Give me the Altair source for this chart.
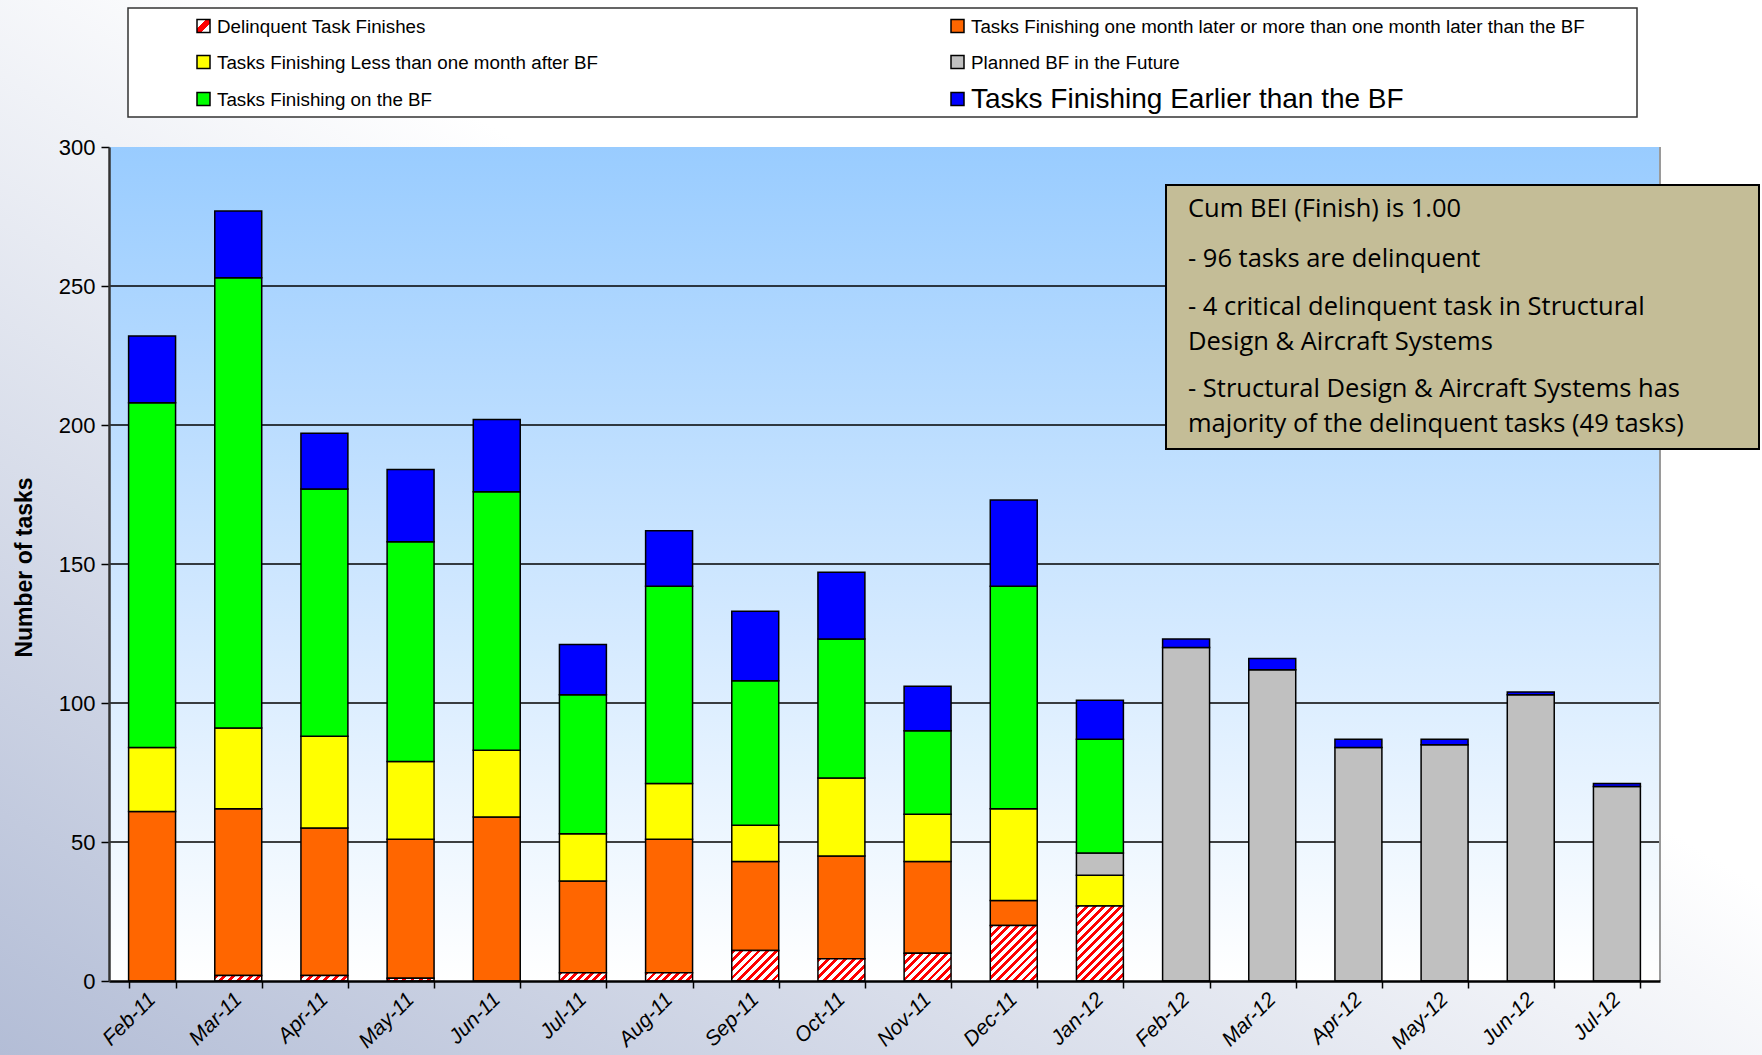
import math
import altair as alt
import pandas as pd

# ---------------- data ----------------
months = ["Feb-11", "Mar-11", "Apr-11", "May-11", "Jun-11", "Jul-11", "Aug-11",
          "Sep-11", "Oct-11", "Nov-11", "Dec-11", "Jan-12", "Feb-12", "Mar-12",
          "Apr-12", "May-12", "Jun-12", "Jul-12"]
delinquent = [0, 2, 2, 1, 0, 3, 3, 11, 8, 10, 20, 27, 0, 0, 0, 0, 0, 0]
late_month = [61, 60, 53, 50, 59, 33, 48, 32, 37, 33, 9, 0, 0, 0, 0, 0, 0, 0]
less_month = [23, 29, 33, 28, 24, 17, 20, 13, 28, 17, 33, 11, 0, 0, 0, 0, 0, 0]
planned_future = [0, 0, 0, 0, 0, 0, 0, 0, 0, 0, 0, 8, 120, 112, 84, 85, 103, 70]
on_bf = [124, 162, 89, 79, 93, 50, 71, 52, 50, 30, 80, 41, 0, 0, 0, 0, 0, 0]
earlier = [24, 24, 20, 26, 26, 18, 20, 25, 24, 16, 31, 14, 3, 4, 3, 2, 1, 1]

categories = ["Delinquent Task Finishes",
              "Tasks Finishing one month later or more than one month later than the BF",
              "Tasks Finishing Less than one month after BF",
              "Planned BF in the Future",
              "Tasks Finishing on the BF",
              "Tasks Finishing Earlier than the BF"]
cat_colors = ["#ff0000", "#ff6600", "#ffff00", "#c0c0c0", "#00ff00", "#0000ff"]

y_ticks = [0, 50, 100, 150, 200, 250, 300]
grid_values = [50, 100, 150, 200, 250]

note_lines = ["Cum BEI (Finish) is 1.00",
              "- 96 tasks are delinquent",
              "- 4 critical delinquent task in Structural",
              "Design & Aircraft Systems",
              "- Structural Design & Aircraft Systems has",
              "majority of the delinquent tasks (49 tasks)"]

# legend layout: left column then right column
legend_order = [0, 2, 4, 1, 3, 5]

# ---------------- layout ----------------
W, H = 1551, 834
PAD = {"left": 109, "top": 147, "right": 102, "bottom": 74}
PI = 0.455
BAR_W = W / len(months) * (1 - PI)

series = [delinquent, late_month, less_month, planned_future, on_bf, earlier]
rows = []
for mi, m in enumerate(months):
    for ci, cat in enumerate(categories):
        rows.append({"month": m, "category": cat, "order": ci, "value": series[ci][mi]})
df = pd.DataFrame(rows)
dummy = pd.DataFrame({"a": [0]})

xscale = alt.Scale(domain=months, paddingInner=PI, paddingOuter=PI / 2)
yscale = alt.Scale(domain=[0, 300], nice=False)

xaxis = alt.Axis(title=None, labelAngle=-45, labelAlign="right", labelBaseline="middle",
                 labelFont="Liberation Sans", labelFontStyle="italic", labelFontSize=21,
                 labelColor="black", tickBand="extent", tickColor="black", tickSize=7,
                 tickWidth=1.5, domainColor="black", domainWidth=2.5, grid=False,
                 labelPadding=8, zindex=1)
yaxis = alt.Axis(title="Number of tasks", values=y_ticks, labelFont="Liberation Sans",
                 labelFontSize=22, labelColor="black", tickColor="black", tickSize=8,
                 tickWidth=1.5, domainColor="#333333", domainWidth=2.5, grid=False,
                 labelPadding=6, titleFont="Liberation Sans", titleFontWeight="bold",
                 titleFontSize=23, titleColor="black", titleAngle=270, titleX=-85,
                 titleY=420, titleAlign="center", titleBaseline="middle", zindex=1)

X = alt.X("month:N", sort=months, scale=xscale, axis=xaxis)


def hatch(h, w=BAR_W, period=6.0, red_frac=0.45):
    k = (w + h) / (w * w + h * h)
    n = max(1, round((w + h) / math.sqrt(2) / period))
    stops = []
    for i in range(n):
        a, b, c = i / n, (i + red_frac) / n, (i + 1) / n
        stops += [{"offset": a, "color": "#ff0000"}, {"offset": b, "color": "#ff0000"},
                  {"offset": b, "color": "#ffffff"}, {"offset": min(c, 1.0), "color": "#ffffff"}]
    return {"gradient": "linear", "x1": 0, "y1": 0, "x2": w * k, "y2": h * k, "stops": stops}


layers = []

# outer background gradient
layers.append(alt.Chart(dummy).mark_rect(
    fill={"gradient": "linear", "x1": 1, "y1": 0, "x2": 0, "y2": 1,
          "stops": [{"offset": 0, "color": "#ffffff"}, {"offset": 0.42, "color": "#ffffff"},
                    {"offset": 1, "color": "#b3bdd6"}]}).encode(
    x=alt.value(-PAD["left"]), x2=alt.value(W + PAD["right"]),
    y=alt.value(-PAD["top"]), y2=alt.value(H + PAD["bottom"])))

# plot area gradient
layers.append(alt.Chart(dummy).mark_rect(
    fill={"gradient": "linear", "x1": 0, "y1": 0, "x2": 0, "y2": 1,
          "stops": [{"offset": 0, "color": "#99ccff"}, {"offset": 1, "color": "#ffffff"}]}).encode(
    x=alt.value(0), x2=alt.value(W), y=alt.value(0), y2=alt.value(H)))

# grid lines
layers.append(alt.Chart(pd.DataFrame({"v": grid_values})).mark_rule(
    color="black", strokeWidth=1.3).encode(
    y=alt.Y("v:Q", scale=yscale, axis=yaxis), x=alt.value(0), x2=alt.value(W)))

# right edge
layers.append(alt.Chart(dummy).mark_rule(color="#9a9a9a", strokeWidth=2).encode(
    x=alt.value(W), y=alt.value(0), y2=alt.value(H)))

# stacked bars (non-delinquent)
layers.append(alt.Chart(df).transform_filter("datum.value > 0").transform_stack(
    stack="value", groupby=["month"], sort=[alt.SortField("order")], as_=["y0", "y1"]
).transform_filter("datum.order > 0").mark_bar(stroke="black", strokeWidth=1.5).encode(
    x=X,
    y=alt.Y("y0:Q", scale=yscale, axis=yaxis),
    y2="y1:Q",
    fill=alt.Fill("category:N", scale=alt.Scale(domain=categories, range=cat_colors), legend=None),
))

# delinquent bars with hatch
for m, d in zip(months, delinquent):
    if d > 0:
        layers.append(alt.Chart(df).transform_filter(
            (alt.datum.month == m) & (alt.datum.order == 0)).mark_bar(
            fill=hatch(d * H / 300.0), stroke="black", strokeWidth=1.5).encode(
            x=X, y=alt.Y("value:Q", scale=yscale, axis=yaxis)))

# annotation box
BX0, BX1, BY0, BY1 = 1057, 1650, 38, 302
layers.append(alt.Chart(dummy).mark_rect(fill="#c4bd97", stroke="black", strokeWidth=2).encode(
    x=alt.value(BX0), x2=alt.value(BX1), y=alt.value(BY0), y2=alt.value(BY1)))
note_y = [62, 112, 160, 195, 242, 277]
for txt, ty in zip(note_lines, note_y):
    layers.append(alt.Chart(dummy).mark_text(
        text=txt, font="Open Sans", fontSize=25.5, align="left", baseline="middle", color="black").encode(
        x=alt.value(1079), y=alt.value(ty)))

# legend box
layers.append(alt.Chart(dummy).mark_rect(fill="white", stroke="#333333", strokeWidth=1.5).encode(
    x=alt.value(19), x2=alt.value(1528), y=alt.value(-139), y2=alt.value(-30)))
col_x = [88, 842]
row_y = [-121, -85, -48]
SW = 13
for pos, ci in enumerate(legend_order):
    col, row = pos // 3, pos % 3
    sx, sy = col_x[col], row_y[row]
    if ci == 0:
        sw_fill = {"gradient": "linear", "x1": 0, "y1": 0, "x2": 1, "y2": 1,
                   "stops": [{"offset": 0, "color": "#ffffff"}, {"offset": 0.36, "color": "#ffffff"},
                             {"offset": 0.36, "color": "#ff0000"}, {"offset": 0.64, "color": "#ff0000"},
                             {"offset": 0.64, "color": "#ffffff"}, {"offset": 1, "color": "#ffffff"}]}
    else:
        sw_fill = cat_colors[ci]
    layers.append(alt.Chart(dummy).mark_rect(fill=sw_fill, stroke="black", strokeWidth=1.5).encode(
        x=alt.value(sx), x2=alt.value(sx + SW), y=alt.value(sy - SW / 2), y2=alt.value(sy + SW / 2)))
    layers.append(alt.Chart(dummy).mark_text(
        text=categories[ci], font="Liberation Sans", fontSize=28 if ci == 5 else 18.8,
        align="left", baseline="middle", color="black").encode(
        x=alt.value(sx + 20), y=alt.value(sy + 1)))

chart = alt.layer(*layers).properties(
    width=W, height=H, padding=PAD, autosize=alt.AutoSizeParams(type="none"),
    background="white"
).configure_view(stroke=None)

chart.save("out.html", embed_options={"renderer": "svg", "actions": False})
